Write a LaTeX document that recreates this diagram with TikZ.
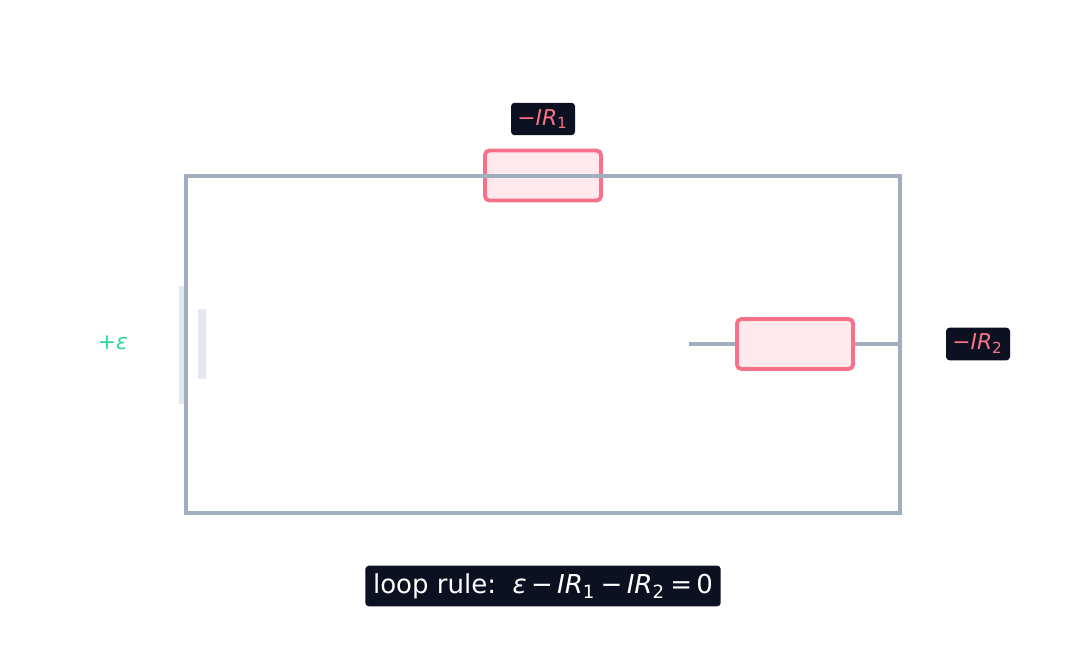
\documentclass[tikz,border=0pt]{standalone}
\usepackage{fontspec}
\setmainfont{DejaVu Sans}
\usetikzlibrary{positioning}
\definecolor{wire}{HTML}{A0AEC0}
\definecolor{plate}{HTML}{E2E8F0}
\definecolor{resred}{HTML}{F87189}
\definecolor{resfill}{HTML}{FFE9EC}
\definecolor{navy}{HTML}{0B1120}
\definecolor{emf}{HTML}{34D399}
\newcommand{\ir}[1]{\textit{IR}\textsubscript{#1}}
\begin{document}
\begin{tikzpicture}[x=0.01cm,y=-0.01cm,
  resistor/.style={draw=resred, fill=resfill, line width=1.1pt, rounded corners=1.3pt, minimum width=1.16cm, minimum height=0.5cm, inner sep=0pt},
  tag/.style={fill=navy, text=resred, rounded corners=1pt, inner sep=1.8pt, font=\fontsize{6.2}{7}\selectfont},
  wire/.style={draw=wire, line width=1.1pt}]
\useasboundingbox (0,0) rectangle (1086,666);
% battery plates
\fill[plate] (179,286) rectangle (184,404);
\fill[plate] (198,309) rectangle (206,379);
% resistors
\node (r1) [resistor] at (543,175.5) {};
\node (r2) [resistor] at (795,344) {};
% loop wire
\draw[wire] (186,176) rectangle (900,513);
\coordinate (stub) at (689,344);
\coordinate (rside) at (900,344);
\draw[wire] (stub) -- (r2.west);
\draw[wire] (r2.east) -- (rside);
% labels
\node (l1) [tag] at (543,119) {−\ir{1}};
\node (l2) [tag] at (978,344) {−\ir{2}};
\node (eps) [text=emf, font=\fontsize{6.2}{7}\selectfont] at (113,343) {+\textit{ε}};
\node (rule) [tag, text=white, inner sep=2.2pt, font=\fontsize{7.4}{8.5}\selectfont] at (543,586) {loop rule:\ \ \textit{ε}\,−\,\ir{1}\,−\,\ir{2}\,=\,0};
\end{tikzpicture}
\end{document}
